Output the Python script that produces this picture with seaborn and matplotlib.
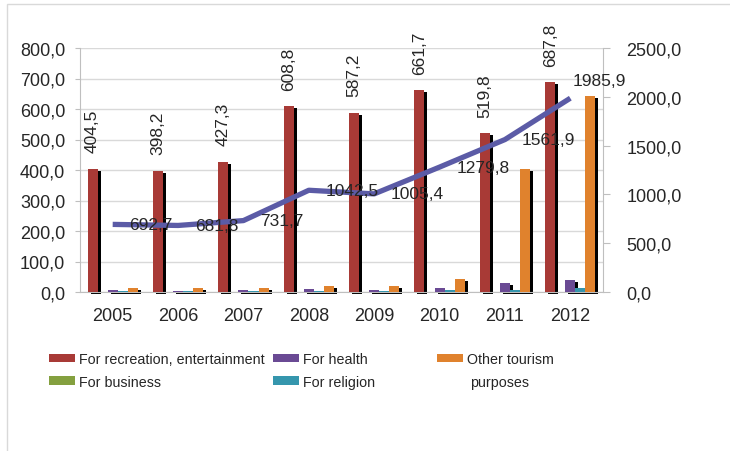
import numpy as np
import pandas as pd
import matplotlib
matplotlib.use('Agg')
import matplotlib.pyplot as plt
from matplotlib.patches import Rectangle, Patch
from matplotlib.ticker import FuncFormatter, MultipleLocator, FixedLocator
import seaborn as sns

# values
years = ['2005', '2006', '2007', '2008', '2009', '2010', '2011', '2012']
recreation = [404.5, 398.2, 427.3, 608.8, 587.2, 661.7, 519.8, 687.8]
business = [0.0, 0.0, 0.0, 0.0, 0.0, 0.0, 0.0, 0.0]
health = [5, 4, 5, 9, 8, 13, 30, 40]
religion = [2, 2, 2, 3, 3, 6, 8, 12]
other = [13, 12, 13, 19, 19, 44, 403, 644]
total = [692.7, 681.8, 731.7, 1042.5, 1005.4, 1279.8, 1561.9, 1985.9]

series_names = ['For recreation, entertainment', 'For business', 'For health',
                'For religion', 'Other tourism']
series_vals = [recreation, business, health, religion, other]
colors = ['#a83a36', '#84a03f', '#6a4a94', '#3596ad', '#e0822d']

sns.set_style('white')
plt.rcParams['font.family'] = ['Liberation Sans', 'DejaVu Sans']
txt_col = '#262626'
grid_col = '#d9d9d9'
axis_col = '#bfbfbf'
leg_fs = 10.3


def comma(v, pos=None):
    return ('%.1f' % v).replace('.', ',')


def main():
    rows = []
    for name, vals in zip(series_names, series_vals):
        for y, v in zip(years, vals):
            rows.append({'year': y, 'series': name, 'value': v})
    df = pd.DataFrame(rows)

    fig = plt.figure(figsize=(7.3, 4.52), dpi=100)
    ax = fig.add_axes([80/730, 1-293/452, 523/730, 244/452])

    sns.barplot(data=df, x='year', y='value', hue='series', hue_order=series_names,
                palette=colors, saturation=1, width=0.77, gap=0, legend=False,
                errorbar=None, ax=ax, zorder=3, linewidth=0)

    # black drop shadow behind every bar
    dx = 3/65.4
    dy = 2*800/244
    for p in list(ax.patches):
        h = p.get_height()
        if h <= 0:
            continue
        ax.add_patch(Rectangle((p.get_x()+dx, -dy), p.get_width(), h, color='black',
                               lw=0, zorder=2.5, clip_on=False))

    ax.set_ylim(0, 800)
    ax.set_xlim(-0.5, 7.5)
    ax.yaxis.set_major_locator(MultipleLocator(100))
    ax.yaxis.set_major_formatter(FuncFormatter(comma))
    ax.grid(axis='y', color=grid_col, lw=1, zorder=0)
    ax.grid(axis='x', visible=False)
    ax.set_xlabel('')
    ax.set_ylabel('')
    ax.xaxis.set_minor_locator(FixedLocator(np.arange(-0.5, 8, 1)))
    ax.tick_params(axis='x', which='major', length=0, pad=11, labelsize=13, labelcolor=txt_col)
    ax.tick_params(axis='x', which='minor', length=3.6, color=axis_col, direction='out')
    ax.tick_params(axis='y', length=3.6, color=axis_col, pad=7, labelsize=13,
                   labelcolor=txt_col, left=True)
    for s in ['top', 'right']:
        ax.spines[s].set_visible(False)
    for s in ['left', 'bottom']:
        ax.spines[s].set_color(axis_col)

    # rotated value labels for recreation bars
    for i, v in enumerate(recreation):
        xc = i - 0.77/2 + 0.77/10
        ax.annotate(comma(v), (xc, v), xytext=(0, 12), textcoords='offset points',
                    rotation=90, ha='center', va='bottom', fontsize=12.5, color=txt_col)

    ax2 = ax.twinx()
    sns.lineplot(x=np.arange(len(years)), y=total, ax=ax2, color='#5b5ba6', lw=3.8,
                 solid_capstyle='butt', zorder=4)
    ax2.set_ylim(0, 2500)
    ax2.set_xlim(-0.5, 7.5)
    ax2.yaxis.set_major_locator(MultipleLocator(500))
    ax2.yaxis.set_major_formatter(FuncFormatter(comma))
    ax2.tick_params(axis='y', length=5, color=axis_col, pad=12, labelsize=13,
                    labelcolor=txt_col, right=True)
    ax2.grid(False)
    for s in ['top', 'left', 'bottom']:
        ax2.spines[s].set_visible(False)
    ax2.spines['right'].set_color(axis_col)

    for i, v in enumerate(total):
        if i == len(total) - 1:
            off = (2, 13)
        else:
            off = (12, 0)
        ax2.annotate(comma(v), (i, v), xytext=off, textcoords='offset points',
                     ha='left', va='center', fontsize=12.5, color=txt_col, zorder=5)

    # legend in three columns like the original
    handles = [Patch(facecolor=c, edgecolor='none') for c in colors]
    groups = [([0, 1], 49), ([2, 3], 273), ([4], 437)]
    for idx, x0 in groups:
        leg = fig.legend([handles[k] for k in idx], [series_names[k] for k in idx],
                         loc='upper left', bbox_to_anchor=(x0/730, 1-353/452),
                         frameon=False, fontsize=leg_fs, handlelength=1.85, handleheight=0.57,
                         handletextpad=0.27, labelspacing=0.6, borderpad=0,
                         borderaxespad=0, labelcolor=txt_col)
        leg.set_in_layout(False)
    fig.text(470/730, 1-383/452, 'purposes', fontsize=leg_fs, color=txt_col,
             ha='left', va='center')

    # thin frame around the chart area
    fig.patches.append(Rectangle((7/730, -0.2), 1.2, 1.2 - 5/452, transform=fig.transFigure,
                                 fill=False, ec='#d9d9d9', lw=1))

    fig.savefig('out.png', dpi=100)


if __name__ == "__main__":
    main()
